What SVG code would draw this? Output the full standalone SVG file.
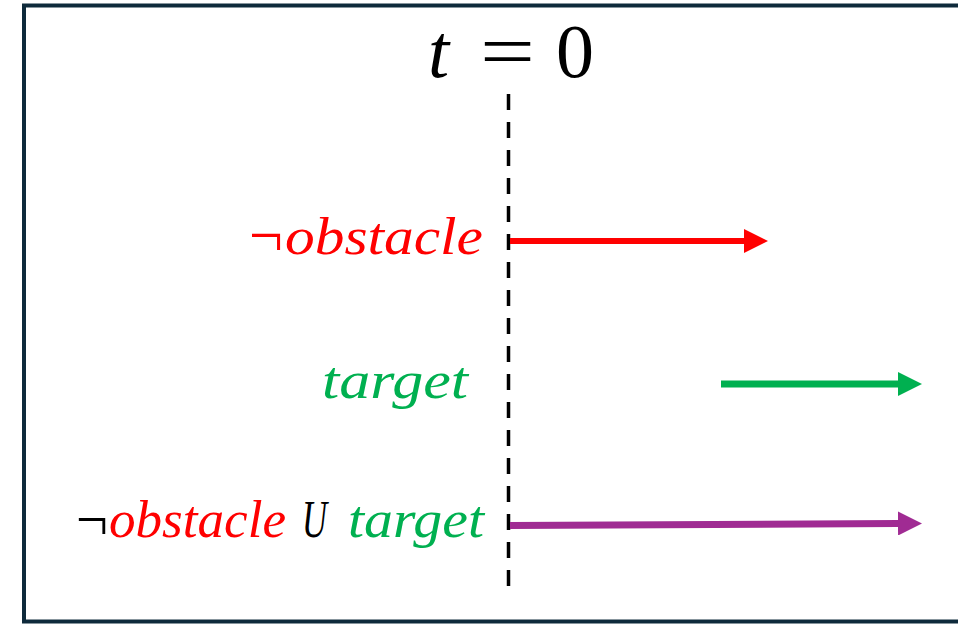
<svg xmlns="http://www.w3.org/2000/svg" width="958" height="624" viewBox="0 0 958 624">
<style>
.m{font-family:"Liberation Serif","DejaVu Serif",serif;font-style:italic}
.n{font-family:"Liberation Serif","DejaVu Serif",serif;font-style:normal}
.red{fill:#ff0000}.grn{fill:#00b050}.blk{fill:#000000}
</style>
<defs>
<marker id="ar" markerUnits="userSpaceOnUse" markerWidth="26" markerHeight="24" refX="0" refY="12" orient="auto"><path d="M0,0 L24,12 L0,24 Z" fill="#ff0000"/></marker>
<marker id="ag" markerUnits="userSpaceOnUse" markerWidth="26" markerHeight="24" refX="0" refY="12" orient="auto"><path d="M0,0 L24,12 L0,24 Z" fill="#00b050"/></marker>
<marker id="ap" markerUnits="userSpaceOnUse" markerWidth="26" markerHeight="24" refX="0" refY="12" orient="auto"><path d="M0,0 L24,12 L0,24 Z" fill="#a02b93"/></marker>
</defs>
<rect x="0" y="0" width="958" height="624" fill="#ffffff"/>
<rect id="frame" x="24" y="5.5" width="950" height="616" fill="none" stroke="#0e2a3b" stroke-width="4"/>
<g id="title"><text class="m blk" x="428" y="77" font-size="76">t</text><text class="n blk" x="480" y="77" font-size="76" textLength="55" lengthAdjust="spacingAndGlyphs">=</text><text class="n blk" x="556" y="77" font-size="76">0</text></g>
<g id="timeline"><line x1="508.5" y1="94" x2="508.5" y2="586" stroke="#000" stroke-width="3.5" stroke-dasharray="16 12"/></g>
<g id="label-obstacle"><text y="254"><tspan class="n red" x="249" y="257" font-size="64" textLength="34" lengthAdjust="spacingAndGlyphs">¬</tspan><tspan class="m red" x="285" y="254" font-size="52" textLength="198" lengthAdjust="spacingAndGlyphs">obstacle</tspan></text></g>
<g id="label-target"><text class="m grn" x="322" y="398" font-size="52" textLength="146" lengthAdjust="spacingAndGlyphs">target</text></g>
<g id="label-until"><text y="537"><tspan class="n blk" x="76" y="540" font-size="62" textLength="32" lengthAdjust="spacingAndGlyphs">¬</tspan><tspan class="m red" x="109" y="537" font-size="52" textLength="177" lengthAdjust="spacingAndGlyphs">obstacle</tspan><tspan class="m blk" x="302" font-size="52" textLength="25" lengthAdjust="spacingAndGlyphs">U</tspan><tspan class="m grn" x="348" font-size="52" textLength="136" lengthAdjust="spacingAndGlyphs">target</tspan></text></g>
<g id="connectors">
<line x1="510" y1="241" x2="744" y2="241" stroke="#ff0000" stroke-width="6" marker-end="url(#ar)"/>
<line x1="721" y1="384" x2="898" y2="384" stroke="#00b050" stroke-width="7" marker-end="url(#ag)"/>
<line x1="510" y1="525.5" x2="898" y2="523.5" stroke="#a02b93" stroke-width="7" marker-end="url(#ap)"/>
</g>
</svg>
